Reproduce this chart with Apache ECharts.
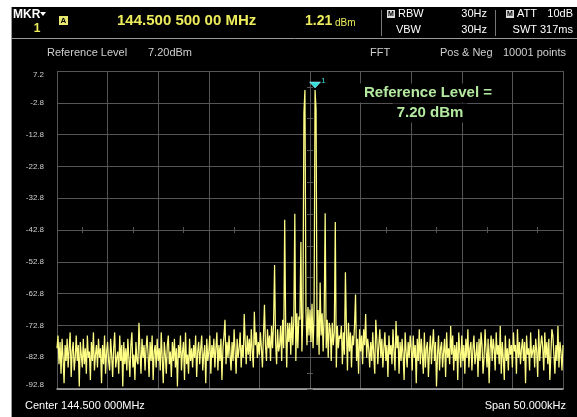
<!DOCTYPE html>
<html><head><meta charset="utf-8">
<script src="https://cdn.jsdelivr.net/npm/echarts@6/dist/echarts.min.js"></script>
<style>html,body{margin:0;padding:0;background:#fff;}#c{width:577px;height:417px;}</style>
</head><body><div id="c"></div>
<script>
// ---- data ----
const REF_LEVEL = 7.2;          // dBm, top of screen
const SPAN_START_KHZ = -25;     // offset from centre frequency
const SPAN_END_KHZ = 25;
const STEP_KHZ = 0.1;           // one sample per 0.1 kHz
const yTickLabels = ['7.2','-2.8','-12.8','-22.8','-32.8','-42.8','-52.8','-62.8','-72.8','-82.8','-92.8'];
// trace (dBm), one row per kHz, from -25 kHz to +25 kHz
const traceRows = [
[-80,-76,-85,-78,-88,-77,-83,-91,-79,-84],
[-77,-86,-80,-75,-89,-81,-78,-87,-83,-76],
[-84,-79,-92,-78,-82,-86,-77,-85,-80,-88],
[-76,-83,-81,-90,-78,-84,-75,-87,-82,-79],
[-86,-77,-83,-80,-91,-79,-85,-76,-88,-81],
[-78,-84,-87,-77,-82,-89,-80,-75,-86,-83],
[-81,-88,-76,-84,-79,-92,-78,-85,-80,-87],
[-77,-83,-89,-79,-75,-86,-82,-90,-78,-84],
[-85,-72,-81,-88,-77,-83,-79,-87,-80,-76],
[-82,-89,-78,-84,-76,-90,-81,-79,-86,-77],
[-84,-80,-87,-75,-83,-91,-78,-82,-88,-79],
[-76,-85,-81,-89,-78,-84,-77,-86,-80,-92],
[-79,-83,-76,-87,-81,-78,-90,-75,-85,-82],
[-88,-77,-84,-80,-86,-79,-83,-76,-89,-81],
[-78,-85,-80,-76,-87,-82,-79,-91,-77,-84],
[-81,-76,-88,-79,-83,-77,-86,-80,-75,-87],
[-79,-84,-77,-90,-80,-76,-71,-85,-78,-83],
[-76,-82,-87,-78,-84,-74,-81,-88,-77,-83],
[-80,-75,-86,-79,-83,-69.2,-78,-85,-76,-82],
[-77,-84,-74,-81,-86,-68.5,-79,-75,-83,-78],
[-82,-75,-80,-86,-76,-66.3,-79,-84,-74,-80],
[-76,-84,-73,-80,-72,-53.8,-78,-85,-74,-81],
[-79,-73,-84,-71,-80,-39.6,-74,-86,-72,-78],
[-72,-82,-70,-79,-71,-37.7,-84,-69,-80,-70],
[-71,-46.6,-81,-69,-5.9,1.2,-68,-79,-67,-76],
[-68,-78,-66,-80,-70,1.21,-4.8,-79,-68,-82],
[-59.3,-76,-69,-81,-70,-37.5,-80,-71,-83,-72],
[-74,-84,-72,-79,-75,-40.3,-86,-73,-80,-76],
[-77,-73,-85,-75,-82,-56.1,-74,-87,-72,-81],
[-75,-86,-76,-79,-73,-63.1,-84,-77,-88,-74],
[-81,-76,-85,-74,-79,-69.2,-83,-77,-80,-86],
[-78,-84,-75,-82,-88,-71,-77,-85,-79,-74],
[-83,-77,-86,-80,-75,-84,-79,-89,-76,-82],
[-79,-85,-74,-81,-87,-71.4,-80,-76,-88,-78],
[-84,-77,-82,-90,-75,-81,-86,-78,-83,-76],
[-80,-87,-76,-83,-79,-91,-77,-84,-74,-85],
[-77,-82,-88,-75,-86,-80,-78,-89,-81,-76],
[-85,-79,-74,-84,-78,-92,-82,-76,-87,-80],
[-78,-86,-81,-77,-89,-75,-83,-80,-85,-73],
[-82,-76,-87,-79,-84,-78,-90,-75,-81,-86],
[-76,-84,-79,-88,-77,-83,-74,-86,-80,-78],
[-87,-80,-76,-85,-82,-78,-89,-77,-84,-75],
[-79,-88,-83,-74,-81,-86,-77,-91,-80,-76],
[-84,-77,-80,-87,-75,-82,-79,-85,-73,-88],
[-78,-83,-90,-76,-84,-80,-87,-77,-82,-79],
[-86,-75,-81,-79,-88,-74,-83,-78,-85,-80],
[-77,-84,-78,-91,-76,-82,-80,-87,-75,-83],
[-83,-79,-86,-77,-81,-89,-74,-84,-79,-76],
[-80,-87,-75,-83,-78,-85,-77,-90,-82,-74],
[-76,-82,-88,-79,-84,-73,-86,-78,-81,-87],
[-79]
];
const markerOffsetKHz = 0.5;
const markerLevel = 1.21;
const headerFreq = '144.500 500 00 MHz';
const headerLevel = '1.21';

// ---- chart ----
const trace = traceRows.flat();
const seriesData = trace.map((v, i) => [+(SPAN_START_KHZ + i * STEP_KHZ).toFixed(2), +(v - REF_LEVEL).toFixed(2)]);

const F = '"Liberation Sans", Arial, sans-serif';
const YEL = '#ecec5c';
const gridCol = '#555';
function txt(text, x, y, opt) {
  opt = opt || {};
  return { type: 'text', silent: true, z: 10, style: {
    text, x, y, fill: opt.fill || '#fff', font: opt.font || ('11px ' + F),
    align: opt.align || 'left', verticalAlign: 'middle',
    backgroundColor: opt.bg, padding: opt.pad
  } };
}

const chart = echarts.init(document.getElementById('c'));
chart.setOption({
  animation: false,
  backgroundColor: '#fff',
  grid: { left: 57, top: 71, right: 14, bottom: 28, containLabel: false },
  xAxis: [{
    type: 'value', min: SPAN_START_KHZ, max: SPAN_END_KHZ, interval: 5,
    axisLine: { show: true, onZero: false, lineStyle: { color: '#b4b4b4', width: 1.5 } },
    axisTick: { show: false }, axisLabel: { show: false },
    splitLine: { show: true, lineStyle: { color: gridCol, width: 1 } }
  }, {
    type: 'value', min: SPAN_START_KHZ, max: SPAN_END_KHZ, interval: 2.5, position: 'bottom', offset: -162,
    axisLine: { show: false, onZero: false }, axisLabel: { show: false }, splitLine: { show: false },
    axisTick: { show: true, length: 6, lineStyle: { color: gridCol } }
  }],
  yAxis: [{
    type: 'value', min: -100, max: 0, interval: 10,
    axisLine: { show: false }, axisTick: { show: false },
    splitLine: { show: true, lineStyle: { color: gridCol, width: 1 } },
    axisLabel: {
      color: '#d0d0d0', fontSize: 8, fontFamily: F, margin: 13,
      formatter: v => yTickLabels[Math.round(-v / 10)],
      verticalAlignMaxLabel: 'top', verticalAlignMinLabel: 'bottom'
    }
  }, {
    type: 'value', min: -100, max: 0, interval: 5, position: 'left', offset: -256,
    axisLine: { show: false, onZero: false }, axisLabel: { show: false }, splitLine: { show: false },
    axisTick: { show: true, length: 6, lineStyle: { color: gridCol } }
  }],
  series: [{
    type: 'line', xAxisIndex: 0, yAxisIndex: 0, data: seriesData,
    showSymbol: false, symbol: 'none', sampling: false, z: 5,
    lineStyle: { color: '#ffff86', width: 1.25 },
    markPoint: {
      symbol: 'triangle', symbolSize: [11, 6], symbolRotate: 180, symbolOffset: [0, -5],
      itemStyle: { color: '#33dede', borderColor: '#bff', borderWidth: 0.5 },
      label: { show: true, formatter: '1', position: [12, -5], color: '#33dede', fontSize: 8, fontFamily: F },
      data: [{ coord: [markerOffsetKHz, +(markerLevel - REF_LEVEL).toFixed(2)] }]
    }
  }],
  graphic: [
    { type: 'rect', silent: true, z: -10, shape: { x: 11, y: 7, width: 566, height: 410 }, style: { fill: '#000' } },
    { type: 'line', silent: true, z: 1, shape: { x1: 11.5, y1: 7, x2: 11.5, y2: 417 }, style: { stroke: '#9a9a9a', lineWidth: 1 } },
    { type: 'line', silent: true, z: 1, shape: { x1: 12, y1: 38.5, x2: 577, y2: 38.5 }, style: { stroke: '#9a9a9a', lineWidth: 1 } },
    { type: 'line', silent: true, z: 1, shape: { x1: 381.5, y1: 10, x2: 381.5, y2: 36 }, style: { stroke: '#777', lineWidth: 1 } },
    { type: 'line', silent: true, z: 1, shape: { x1: 495.5, y1: 10, x2: 495.5, y2: 36 }, style: { stroke: '#777', lineWidth: 1 } },
    txt('MKR', 13, 15, { font: 'bold 12px ' + F }),
    { type: 'polygon', silent: true, z: 10, shape: { points: [[40, 12], [46, 12], [43, 16]] }, style: { fill: '#fff' } },
    txt('1', 37, 29, { fill: YEL, font: 'bold 12px ' + F, align: 'center' }),
    { type: 'rect', silent: true, z: 10, shape: { x: 59, y: 16, width: 9, height: 9 }, style: { fill: '#e8e870' } },
    txt('A', 63.5, 21, { fill: '#000', font: 'bold 8px ' + F, align: 'center' }),
    txt(headerFreq, 117, 21, { fill: YEL, font: 'bold 15px ' + F }),
    txt(headerLevel, 305, 21, { fill: YEL, font: 'bold 14px ' + F }),
    txt('dBm', 335, 23, { fill: YEL, font: '10px ' + F }),
    { type: 'rect', silent: true, z: 10, shape: { x: 387, y: 10, width: 8, height: 8 }, style: { fill: '#ddd' } },
    txt('M', 391, 14.5, { fill: '#000', font: 'bold 7px ' + F, align: 'center' }),
    txt('RBW', 398, 14, { font: '11px ' + F }),
    txt('30Hz', 487, 14, { font: '11px ' + F, align: 'right' }),
    txt('VBW', 421, 30, { font: '11px ' + F, align: 'right' }),
    txt('30Hz', 487, 30, { font: '11px ' + F, align: 'right' }),
    { type: 'rect', silent: true, z: 10, shape: { x: 506, y: 10, width: 8, height: 8 }, style: { fill: '#ddd' } },
    txt('M', 510, 14.5, { fill: '#000', font: 'bold 7px ' + F, align: 'center' }),
    txt('ATT', 517, 14, { font: '11px ' + F }),
    txt('10dB', 573, 14, { font: '11px ' + F, align: 'right' }),
    txt('SWT', 537, 30, { font: '11px ' + F, align: 'right' }),
    txt('317ms', 573, 30, { font: '11px ' + F, align: 'right' }),
    txt('Reference Level', 47, 53, { fill: '#cfcfcf', font: '11px ' + F }),
    txt('7.20dBm', 148, 53, { fill: '#cfcfcf', font: '11px ' + F }),
    txt('FFT', 370, 53, { fill: '#cfcfcf', font: '11px ' + F }),
    txt('Pos & Neg', 440, 53, { fill: '#cfcfcf', font: '11px ' + F }),
    txt('10001 points', 566, 53, { fill: '#cfcfcf', font: '11px ' + F, align: 'right' }),
    txt('Reference Level =', 428, 93, { fill: '#b4eaa0', font: 'bold 15px ' + F, align: 'center', bg: '#000', pad: [2, 4] }),
    txt('7.20 dBm', 430, 113, { fill: '#b4eaa0', font: 'bold 15px ' + F, align: 'center', bg: '#000', pad: [2, 4] }),
    txt('Center 144.500 000MHz', 25, 406, { font: '11px ' + F }),
    txt('Span 50.000kHz', 566, 406, { font: '11px ' + F, align: 'right' })
  ]
});
</script></body></html>
